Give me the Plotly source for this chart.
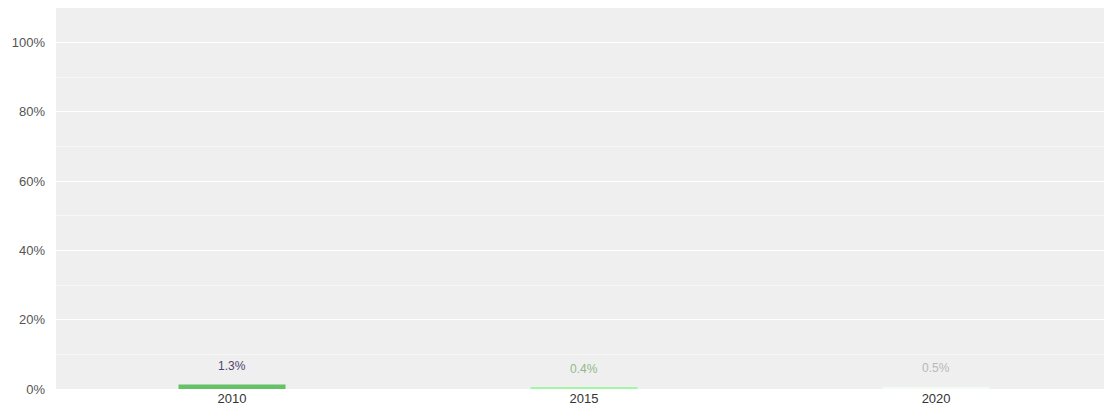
import plotly.graph_objects as go

categories = ["2010", "2015", "2020"]
values = [1.3, 0.4, 0.5]
bar_colors = ["#66c266", "#a6f5a6", "#f4fbf4"]
label_colors = ["#4f4470", "#90b88a", "#b8b8b8"]
label_texts = ["1.3%", "0.4%", "0.5%"]

positions = list(range(len(categories)))

fig = go.Figure()
fig.add_trace(go.Bar(x=positions, y=values, marker=dict(color=bar_colors, line=dict(width=0)),
                     width=0.304, hoverinfo="skip"))

for p, v, t, col in zip(positions, values, label_texts, label_colors):
    fig.add_annotation(x=p, y=v, text=t, showarrow=False, yanchor="bottom", yshift=10,
                       font=dict(size=12, color=col, family="Arial"))

fig.update_layout(
    width=1104, height=406,
    margin=dict(l=56, r=0, t=8, b=13),
    paper_bgcolor="white", plot_bgcolor="#efefef",
    showlegend=False,
    font=dict(family="Arial", size=13, color="#555"),
)
fig.update_xaxes(range=[-0.5, 2.477], tickmode="array", tickvals=positions, ticktext=categories,
                 showgrid=False, zeroline=False, tickfont=dict(size=13, color="#333"))
fig.update_yaxes(range=[0, 110], dtick=20, ticksuffix="%", ticklabelstandoff=10,
                 gridcolor="white", gridwidth=1, zeroline=False,
                 minor=dict(dtick=10, showgrid=True, gridcolor="#f7f7f7", gridwidth=1),
                 tickfont=dict(size=13, color="#555"))

fig.write_html("out.html", config={"displayModeBar": False},
               post_script="document.body.style.margin='0';")
